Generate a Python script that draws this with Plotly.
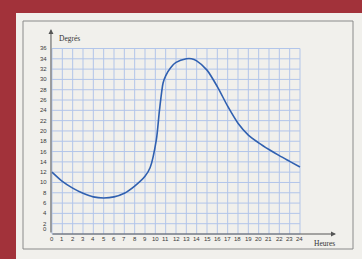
import plotly.graph_objects as go

# Data
hours = [0, 1, 2, 3, 4, 5, 6, 7, 8, 9, 9.5, 10.1, 10.4, 10.75, 11, 11.5, 12, 13, 13.5, 14,
         15, 16, 17, 18, 19, 20, 21, 22, 23, 24]
degres = [12, 10.2, 8.9, 7.9, 7.2, 7.0, 7.2, 7.9, 9.3, 11.2, 12.9, 18.3, 24, 29.3, 30.7,
          32.3, 33.3, 34, 34, 33.6, 31.8, 28.6, 24.8, 21.5, 19.2, 17.7, 16.4, 15.2, 14.1, 13]
x_ticks = list(range(0, 25))
y_ticks = list(range(0, 37, 2))

W, H = 362, 259
# pixel mapping: x px = 52 + t*10.333 ; y px = 234 - v*5.153
px_per_h = 10.333
px_per_d = 5.153
left_px, right_px, top_px, bottom_px = 44, 340, 26, 245
x0 = (left_px - 52) / px_per_h
x1 = (right_px - 52) / px_per_h
y1 = (234 - top_px) / px_per_d
y0 = (234 - bottom_px) / px_per_d

fig = go.Figure()

shapes = []
# page
shapes.append(dict(type="rect", xref="paper", yref="paper", x0=(16 - left_px) / (right_px - left_px),
                   x1=1.2, y0=-0.2, y1=(bottom_px - 13) / (bottom_px - top_px),
                   fillcolor="#F1F0EC", line=dict(width=0), layer="below"))
# inner frame
shapes.append(dict(type="rect", xref="paper", yref="paper",
                   x0=(23 - left_px) / (right_px - left_px), x1=(353 - left_px) / (right_px - left_px),
                   y0=(bottom_px - 249) / (bottom_px - top_px), y1=(bottom_px - 21) / (bottom_px - top_px),
                   fillcolor="rgba(0,0,0,0)", line=dict(color="#8A8A8A", width=1), layer="below"))
grid_col = "#B2C5EA"
for t in x_ticks:
    shapes.append(dict(type="line", x0=t, x1=t, y0=0, y1=36, line=dict(color=grid_col, width=1), layer="below"))
for v in y_ticks:
    shapes.append(dict(type="line", x0=0, x1=24, y0=v, y1=v, line=dict(color=grid_col, width=1), layer="below"))

fig.add_trace(go.Scatter(x=hours, y=degres, mode="lines",
                         line=dict(color="#3060B0", width=1.6, shape="spline", smoothing=0.7),
                         hoverinfo="skip", showlegend=False))

annotations = []
# axes with arrows
ax_col = "#555555"
annotations.append(dict(x=(336 - 52) / px_per_h, y=0, ax=-0.1, ay=0, xref="x", yref="y", axref="x", ayref="y",
                        showarrow=True, arrowhead=2, arrowsize=1, arrowwidth=1, arrowcolor=ax_col, text=""))
annotations.append(dict(x=-0.1, y=(234 - 29) / px_per_d, ax=-0.1, ay=0, xref="x", yref="y", axref="x", ayref="y",
                        showarrow=True, arrowhead=2, arrowsize=1, arrowwidth=1, arrowcolor=ax_col, text=""))
lab_font = dict(family="Liberation Sans", size=6, color="#3A3A3A")
for t in x_ticks:
    annotations.append(dict(x=t, y=-0.97, text=str(t), showarrow=False, font=lab_font,
                            xanchor="center", yanchor="middle"))
for v in y_ticks:
    annotations.append(dict(x=-0.3, y=v, text=str(v), showarrow=False, font=lab_font,
                            xanchor="right", yanchor="middle", yshift=5 if v == 0 else 0))
annotations.append(dict(x=(57 - 52) / px_per_h, y=(234 - 38) / px_per_d, text="Degrés", showarrow=False,
                        font=dict(family="Liberation Serif", size=7.5, color="#333333"),
                        xanchor="left", yanchor="middle"))
annotations.append(dict(x=(312 - 52) / px_per_h, y=(234 - 243) / px_per_d, text="Heures", showarrow=False,
                        font=dict(family="Liberation Serif", size=7.5, color="#333333"),
                        xanchor="left", yanchor="middle"))

fig.update_layout(
    width=W, height=H,
    margin=dict(l=left_px, r=W - right_px, t=top_px, b=H - bottom_px, pad=0),
    paper_bgcolor="#A2323A",
    plot_bgcolor="rgba(0,0,0,0)",
    xaxis=dict(range=[x0, x1], visible=False, fixedrange=True),
    yaxis=dict(range=[y0, y1], visible=False, fixedrange=True),
    shapes=shapes,
    annotations=annotations,
)

fig.write_html("out.html", config={"displayModeBar": False},
               post_script="document.body.style.margin='0px';document.body.style.padding='0px';document.body.style.overflow='hidden';")
